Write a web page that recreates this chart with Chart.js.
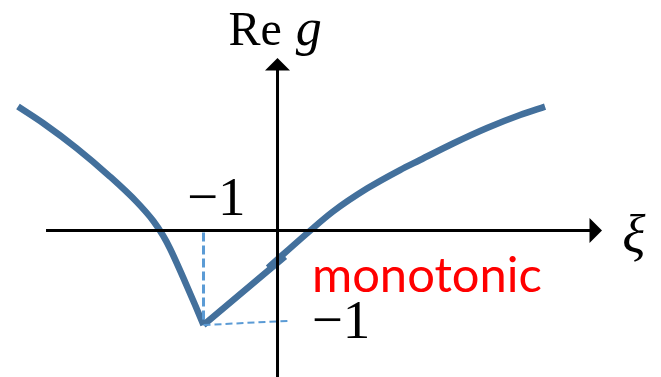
<!DOCTYPE html>
<html>
<head>
<meta charset="utf-8">
<script src="https://cdn.jsdelivr.net/npm/chart.js@4.4.1/dist/chart.umd.min.js"></script>
<style>
  html, body { margin: 0; padding: 0; background: #ffffff; overflow: hidden; }
  #wrap { width: 661px; height: 377px; }
</style>
</head>
<body>
<div id="wrap"><canvas id="c" width="661" height="377"></canvas></div>
<script>
// Sketch of Re g(ξ): a left branch falling to the minimum at (−1, −1)
// and a right branch that rises monotonically from there.
const leftXi  = [-3.507, -3.165, -2.714, -2.264, -1.903, -1.678, -1.547, -1.453, -1.277, -1.115, -1.000];
const leftRe  = [ 1.312,  1.135,  0.871,  0.571,  0.303,  0.101, -0.053, -0.190, -0.493, -0.785, -1.000];

// straight rise out of the minimum
const riseXi = [-1.000, 0.101];
const riseRe = [-1.000, -0.275];

// curved continuation of the right branch
const rightXi = [-0.128, 0.399, 0.750, 1.209, 1.655, 1.926, 2.372, 2.831, 3.277, 3.615];
const rightRe = [-0.395, -0.030, 0.201, 0.444, 0.640, 0.746, 0.921, 1.085, 1.222, 1.310];

// Dashed guides from the minimum to the two axes
const guideVertXi = [-1.00, -1.00];
const guideVertRe = [-0.02, -0.97];
const guideFlatXi = [-1.00, 0.169];
const guideFlatRe = [-1.00, -0.955];

// Axis lines (arrowheads are added at their far ends)
const xAxisXi = [-3.128, 4.223];
const xAxisRe = [0, 0];
const yAxisXi = [0, 0];
const yAxisRe = [-1.60, 1.70];
const xArrowTip = 4.385;
const yArrowTip = 1.825;

// Tick labels and axis titles
const tickLabels = ['\u22121', '\u22121'];
const yTitleUpright = 'Re';
const yTitleItalic = 'g';
const xTitle = '\u03BE';
const note = 'monotonic';

const pts = (xs, ys) => xs.map((x, i) => ({ x: x, y: ys[i] }));

const curveColor = '#43709C';
const guideColor = '#5B9BD5';

const overlay = {
  id: 'overlay',
  afterDatasetsDraw(chart) {
    const ctx = chart.ctx;
    const sx = chart.scales.x, sy = chart.scales.y;
    const X = v => sx.getPixelForValue(v);
    const Y = v => sy.getPixelForValue(v);
    ctx.save();

    // arrowheads
    ctx.fillStyle = '#000';
    const ox = X(0), oy = Y(0);
    const tx = X(xArrowTip);
    ctx.beginPath();
    ctx.moveTo(tx, oy);
    ctx.lineTo(tx - 12.5, oy - 12.5);
    ctx.lineTo(tx - 12.5, oy + 12.5);
    ctx.closePath();
    ctx.fill();
    const ty = Y(yArrowTip);
    ctx.beginPath();
    ctx.moveTo(ox, ty);
    ctx.lineTo(ox - 12.5, ty + 12.5);
    ctx.lineTo(ox + 12.5, ty + 12.5);
    ctx.closePath();
    ctx.fill();

    // axis titles
    ctx.fillStyle = '#000';
    ctx.textBaseline = 'alphabetic';
    ctx.textAlign = 'left';
    ctx.font = '48px "Liberation Serif"';
    ctx.fillText(yTitleUpright, X(-0.663), Y(1.963));
    ctx.font = 'italic 52px "Liberation Serif"';
    ctx.fillText(yTitleItalic, X(0.245), Y(1.963));
    ctx.font = 'italic 54px "Liberation Serif"';
    ctx.fillText(xTitle, X(4.659), Y(-0.24));

    // tick labels
    ctx.font = '55px "Liberation Serif"';
    ctx.fillText(tickLabels[0], X(-1.223), Y(0.165));
    ctx.fillText(tickLabels[1], X(0.461), Y(-1.137));

    // annotation
    ctx.fillStyle = '#FF0000';
    ctx.font = '50px Lato';
    const w = ctx.measureText(note).width;
    const fs = 50 * 230 / w;
    ctx.font = fs.toFixed(1) + 'px Lato';
    ctx.fillText(note, X(0.465), Y(-0.65));

    ctx.restore();
  }
};

const curveStyle = {
  borderColor: curveColor, borderWidth: 6.5, borderCapStyle: 'butt',
  borderJoinStyle: 'miter', pointRadius: 0, cubicInterpolationMode: 'monotone'
};

new Chart(document.getElementById('c'), {
  type: 'line',
  data: {
    datasets: [
      { data: pts(xAxisXi, xAxisRe), borderColor: '#000', borderWidth: 3, pointRadius: 0, tension: 0 },
      { data: pts(yAxisXi, yAxisRe), borderColor: '#000', borderWidth: 3, pointRadius: 0, tension: 0 },
      { data: pts(guideVertXi, guideVertRe), borderColor: guideColor, borderWidth: 3, borderDash: [9, 4], pointRadius: 0, tension: 0 },
      { data: pts(guideFlatXi, guideFlatRe), borderColor: guideColor, borderWidth: 2, borderDash: [7, 4], pointRadius: 0, tension: 0 },
      Object.assign({ data: pts(leftXi, leftRe) }, curveStyle),
      Object.assign({ data: pts(riseXi, riseRe) }, curveStyle),
      Object.assign({ data: pts(rightXi, rightRe) }, curveStyle)
    ]
  },
  options: {
    responsive: false,
    animation: false,
    layout: { padding: 0 },
    plugins: { legend: { display: false }, tooltip: { enabled: false } },
    scales: {
      x: { type: 'linear', min: -3.750, max: 5.182, display: false },
      y: { type: 'linear', min: -1.550, max: 2.439, display: false }
    }
  },
  plugins: [overlay]
});
</script>
</body>
</html>
